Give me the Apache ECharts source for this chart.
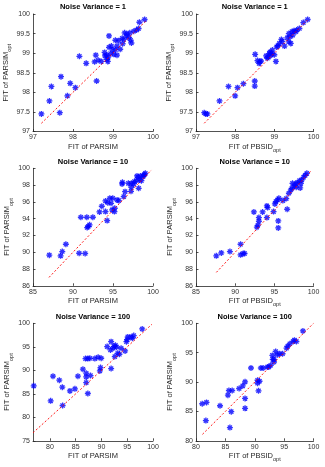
<!DOCTYPE html>
<html lang="en">
<head>
<meta charset="UTF-8">
<title>FIT comparison</title>
<script src="https://cdn.jsdelivr.net/npm/echarts@6/dist/echarts.min.js"></script>
<style>
  html, body { margin: 0; padding: 0; background: #fff; }
  #main { width: 325px; height: 467px; }
</style>
</head>
<body>
<div id="main"></div>
<script>
// panel titles and axis names
var titles = ['Noise Variance = 1', 'Noise Variance = 1', 'Noise Variance = 10',
              'Noise Variance = 10', 'Noise Variance = 100', 'Noise Variance = 100'];
var xNames = ['FIT of PARSIM', '{m|FIT of PBSID}{s|opt}', 'FIT of PARSIM',
              '{m|FIT of PBSID}{s|opt}', 'FIT of PARSIM', '{m|FIT of PBSID}{s|opt}'];
var yName = '{m|FIT of PARSIM}{s|opt}';

// axis ranges and tick labels
var xRanges = [[97, 100], [97, 100], [85, 100], [85, 100], [76.7, 100], [80, 100]];
var yRanges = [[97, 100], [97, 100], [86, 100], [86, 100], [75, 100], [80, 100]];
var xTicks = [[97, 98, 99, 100], [97, 98, 99, 100], [85, 90, 95, 100], [85, 90, 95, 100],
              [80, 85, 90, 95, 100], [80, 85, 90, 95, 100]];
var yTicks = [[97, 97.5, 98, 98.5, 99, 99.5, 100], [97, 97.5, 98, 98.5, 99, 99.5, 100],
              [86, 88, 90, 92, 94, 96, 98, 100], [86, 88, 90, 92, 94, 96, 98, 100],
              [75, 80, 85, 90, 95, 100], [80, 85, 90, 95, 100]];

// y = x reference line, start and end
var diagEnds = [[97.21, 99.85], [97.21, 99.85], [87.0, 99.8], [87.6, 99.7], [76.7, 99.8], [81.1, 100]];

// noise variance 1, PARSIM vs PARSIM_opt
var pts1 = [[97.21,97.45],[97.41,97.78],[97.46,98.15],[97.67,97.48],[97.70,98.40],[97.86,97.91],
  [97.93,98.23],[98.06,98.12],[98.16,98.92],[98.33,98.74],[98.54,98.78],[98.57,98.95],[98.59,98.29],
  [98.63,98.82],[98.71,98.79],[98.79,99.02],[98.80,98.93],[98.84,98.95],[98.85,98.84],[98.87,98.79],
  [98.88,98.90],[98.90,99.15],[98.90,99.44],[98.94,98.99],[98.96,99.18],[98.99,99.08],[99.02,98.97],
  [99.06,99.09],[99.06,99.33],[99.10,99.18],[99.10,98.95],[99.14,99.32],[99.18,99.10],[99.23,99.38],
  [99.24,99.24],[99.27,99.35],[99.29,99.52],[99.34,99.44],[99.35,99.49],[99.40,99.40],[99.42,99.52],
  [99.46,99.26],[99.44,99.33],[99.52,99.56],[99.59,99.59],[99.64,99.63],[99.66,99.79],[99.79,99.86]];
// noise variance 1, PBSID_opt vs PARSIM_opt
var pts2 = [[97.21,97.48],[97.25,97.45],[97.29,97.45],[97.60,97.78],[97.83,98.15],[98.00,97.91],
  [98.06,98.12],[98.21,98.22],[98.50,98.16],[98.50,98.29],[98.51,98.97],[98.57,98.81],[98.61,98.74],
  [98.63,98.78],[98.66,98.80],[98.79,98.93],[98.82,98.87],[98.85,98.90],[98.87,98.99],[98.89,99.03],
  [98.92,98.95],[98.94,98.99],[98.95,99.08],[99.00,98.96],[99.04,98.79],[99.06,99.16],[99.09,99.19],
  [99.13,99.25],[99.18,99.35],[99.20,99.30],[99.26,99.18],[99.33,99.39],[99.37,99.29],[99.37,99.50],
  [99.40,99.42],[99.42,99.25],[99.45,99.55],[99.47,99.46],[99.50,99.57],[99.55,99.55],[99.57,99.59],
  [99.64,99.63],[99.74,99.78],[99.85,99.86]];
// noise variance 10, PARSIM vs PARSIM_opt
var pts3 = [[87.04,89.65],[88.45,89.57],[88.66,90.08],[89.11,90.95],[90.77,89.88],[91.52,89.85],
  [90.98,94.17],[91.73,94.17],[91.77,92.94],[91.90,93.06],[92.07,93.26],[92.48,94.17],[93.31,94.80],
  [93.60,95.48],[94.06,94.84],[94.27,93.77],[94.06,96.11],[94.35,95.91],[94.60,96.43],[94.97,96.43],
  [94.76,95.83],[94.89,95.04],[95.18,94.84],[95.22,95.24],[95.51,96.23],[95.72,96.15],[96.13,98.14],
  [96.18,98.33],[96.51,97.22],[96.34,96.63],[96.92,98.21],[97.29,98.21],[97.25,97.26],[97.29,97.74],
  [97.59,98.14],[97.67,98.41],[97.92,98.53],[98.00,99.09],[98.13,98.93],[98.21,97.62],[98.34,98.61],
  [98.42,99.09],[98.55,98.53],[98.75,99.01],[98.92,99.25],[99.04,99.40],[98.84,99.17]];
// noise variance 10, PBSID_opt vs PARSIM_opt
var pts4 = [[87.59,89.57],[88.23,89.92],[89.33,90.08],[90.69,90.95],[90.69,89.69],[91.03,89.85],
  [91.20,89.85],[92.39,94.80],[92.77,92.98],[92.90,93.22],[93.03,94.13],[93.03,93.69],[93.50,94.80],
  [94.05,95.52],[94.14,95.32],[94.05,94.13],[94.90,94.84],[95.07,95.76],[95.20,96.03],[95.41,96.23],
  [95.58,96.43],[95.50,93.73],[95.50,92.90],[96.09,96.15],[96.52,96.39],[96.64,95.12],[96.86,97.03],
  [97.11,97.42],[97.24,97.62],[97.32,98.21],[97.54,97.90],[97.75,98.14],[97.92,98.29],[98.22,98.53],
  [98.39,98.21],[98.51,98.61],[98.73,98.93],[98.94,99.17],[99.15,99.40],[97.79,97.74],[98.30,97.66]];
// noise variance 100, PARSIM vs PARSIM_opt
var pts5 = [[76.84,86.69],[80.13,83.50],[80.58,88.74],[81.81,87.89],[82.39,86.40],[82.45,82.51],
  [83.87,85.62],[84.84,86.05],[85.42,88.74],[86.39,90.23],[86.90,92.49],[87.35,92.49],[87.74,92.56],
  [87.03,89.38],[87.03,88.60],[87.03,87.39],[87.35,85.06],[87.87,88.88],[88.71,92.49],[89.35,92.78],
  [89.94,92.56],[89.68,89.87],[89.81,90.58],[91.10,95.04],[91.74,94.33],[91.87,96.10],[91.87,90.37],
  [92.26,94.69],[92.45,95.11],[92.71,95.33],[92.58,92.92],[92.90,94.90],[93.16,93.63],[93.48,93.41],
  [93.81,94.69],[94.58,94.12],[94.84,96.10],[94.97,96.53],[95.10,97.10],[95.74,97.10],[96.00,96.81],
  [96.26,97.38],[97.90,98.80]];
// noise variance 100, PBSID_opt vs PARSIM_opt
var pts6 = [[81.06,86.31],[81.79,86.54],[81.68,83.44],[84.09,85.97],[85.43,87.77],[85.60,88.56],
  [86.16,88.56],[86.00,84.96],[85.77,82.25],[87.34,88.90],[87.95,89.35],[88.35,90.03],[88.35,87.21],
  [88.35,85.52],[89.36,92.39],[90.48,90.31],[90.48,89.80],[90.64,88.51],[90.81,90.14],[91.04,92.39],
  [91.43,92.39],[92.16,92.56],[92.38,92.56],[92.72,92.85],[93.00,94.54],[93.06,93.86],[93.28,93.86],
  [93.28,93.41],[93.56,95.21],[93.84,94.65],[94.23,94.82],[94.73,94.82],[95.41,95.77],[95.63,96.11],
  [95.97,96.51],[96.53,96.90],[96.75,97.13],[97.09,96.90],[98.20,98.70]];

var allPts = [pts1, pts2, pts3, pts4, pts5, pts6];

var colLeft = [33, 196], colWidth = [120, 117.5];
var rowTop = [14, 168.3, 323.3], rowHeight = 117.5;
var titleTop = [2.5, 157.5, 312.5];
var fontFam = 'Liberation Sans, Arial, sans-serif';
var star = 'path://M5,0L5,10M0,5L10,5M1.5,1.5L8.5,8.5M1.5,8.5L8.5,1.5';

var nameRich = {
    m: { fontSize: 7.5, color: '#262626', fontFamily: fontFam, verticalAlign: 'top', lineHeight: 11 },
    s: { fontSize: 5.5, color: '#262626', fontFamily: fontFam, verticalAlign: 'bottom', lineHeight: 11 }
};

var grids = [], xAxes = [], yAxes = [], series = [], titleList = [];
for (var i = 0; i < 6; i++) {
    var c = i % 2, r = Math.floor(i / 2);
    grids.push({ left: colLeft[c], top: rowTop[r], width: colWidth[c], height: rowHeight });
    titleList.push({
        text: titles[i], left: colLeft[c] + colWidth[c] / 2, top: titleTop[r], textAlign: 'center',
        padding: 0,
        textStyle: { fontSize: 7.5, fontWeight: 'bold', color: '#000', fontFamily: fontFam }
    });
    var axisCommon = {
        axisLine: { show: true, lineStyle: { color: '#262626', width: 0.8 } },
        axisTick: { show: true, inside: true, length: 2.5, lineStyle: { color: '#262626', width: 0.8 } },
        splitLine: { show: false },
        axisLabel: { fontSize: 7, color: '#333', fontFamily: fontFam },
        nameLocation: 'middle',
        nameTextStyle: { fontSize: 7.5, color: '#262626', fontFamily: fontFam, rich: nameRich }
    };
    xAxes.push(echarts.util.merge({
        type: 'value', gridIndex: i, min: xRanges[i][0], max: xRanges[i][1],
        name: xNames[i], nameGap: 11,
        axisLabel: { margin: 2.5, customValues: xTicks[i] },
        axisTick: { customValues: xTicks[i] }
    }, axisCommon));
    yAxes.push(echarts.util.merge({
        type: 'value', gridIndex: i, min: yRanges[i][0], max: yRanges[i][1],
        name: yName, nameGap: 17,
        axisLabel: { margin: 3, customValues: yTicks[i] },
        axisTick: { customValues: yTicks[i] }
    }, axisCommon));
    series.push({
        type: 'scatter', xAxisIndex: i, yAxisIndex: i, data: allPts[i],
        symbol: star, symbolSize: 6,
        itemStyle: { color: 'rgba(0,0,0,0)', borderColor: '#0000ff', borderWidth: 1.3 },
        silent: true, z: 2
    });
    series.push({
        type: 'line', xAxisIndex: i, yAxisIndex: i,
        data: [[diagEnds[i][0], diagEnds[i][0]], [diagEnds[i][1], diagEnds[i][1]]],
        symbol: 'none', silent: true, z: 3,
        lineStyle: { color: '#ff0000', width: 0.9, type: [2, 2] }
    });
}

var myChart = echarts.init(document.getElementById('main'));
myChart.setOption({
    animation: false,
    backgroundColor: '#fff',
    title: titleList,
    grid: grids,
    xAxis: xAxes,
    yAxis: yAxes,
    series: series
});
</script>
</body>
</html>
